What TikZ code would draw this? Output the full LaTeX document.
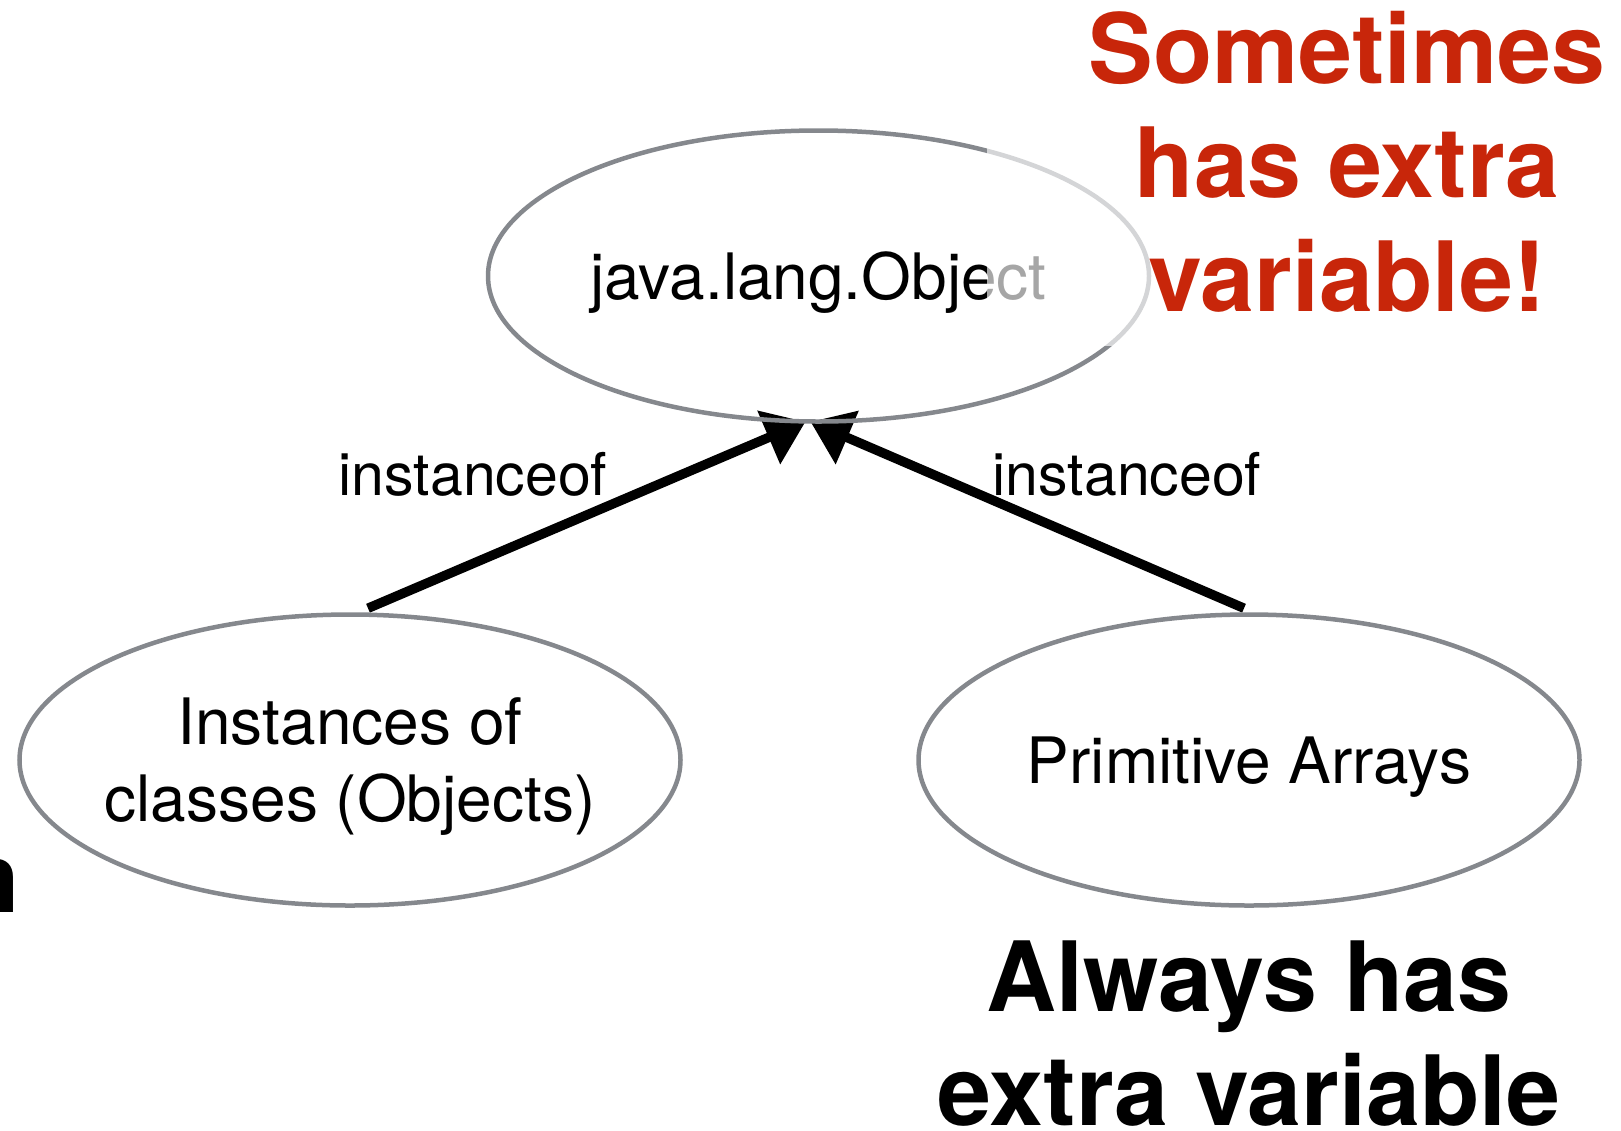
\documentclass[tikz,border=0pt]{standalone}
\usepackage{fontspec}
\setmainfont{TeX Gyre Heros}
\usetikzlibrary{shapes.geometric,arrows.meta}
\definecolor{ellgray}{RGB}{133,136,141}
\definecolor{warnred}{RGB}{200,38,10}
\pgfdeclarelayer{bg}
\pgfsetlayers{bg,main}
\newcommand{\ctrline}[1]{\makebox[0pt][c]{\raisebox{0pt}[46pt][0pt]{#1}}}
\newcommand{\bigline}[1]{\raisebox{0pt}[70pt][0pt]{#1}}
\begin{document}
\begin{tikzpicture}[x=1pt,y=-1pt,
  oval/.style={ellipse, draw=ellgray, line width=4.5pt, minimum width=661pt,
    minimum height=291pt, inner sep=0pt, align=center,
    font=\fontsize{64}{77}\selectfont},
  link/.style={line width=9.5pt, -{Triangle[length=40pt,width=56pt]}},
  lbl/.style={font=\fontsize{59}{70}\selectfont, anchor=base, inner sep=0pt},
  big/.style={font=\bfseries\fontsize{97}{114}\selectfont, align=center, inner sep=0pt}]
\useasboundingbox (0,0) rectangle (1621,1130);

\node[oval] (o) at (818.5,276) {\ctrline{java.lang.Object}};
\node[oval] (l) at (350,760) {\ctrline{Instances of}\\\ctrline{classes (Objects)}};
\node[oval] (r) at (1249,760) {\ctrline{Primitive Arrays}};

\begin{pgfonlayer}{bg}
\draw[link] ([xshift=18pt,yshift=4pt]l.north) -- ([xshift=-13pt,yshift=2pt]o.south);
\draw[link] ([xshift=-5pt,yshift=4pt]r.north) -- ([xshift=-8pt,yshift=2pt]o.south);
\end{pgfonlayer}

\node[lbl] (il) at (473,495) {instanceof};
\node[lbl] (ir) at (1127,495) {instanceof};

\fill[white, opacity=0.65] (987,0) rectangle (1621,346);

\node[big, text=warnred] (warn) at (1347,162.5)
  {\bigline{Sometimes}\\\bigline{has extra}\\\bigline{variable!}};
\node[big] (always) at (1249,1033.5)
  {\bigline{Always has}\\\bigline{extra variable}};
\node[font=\bfseries\fontsize{97}{114}\selectfont, anchor=base east, inner sep=0pt] (cut) at (20,912) {n};
\end{tikzpicture}
\end{document}
